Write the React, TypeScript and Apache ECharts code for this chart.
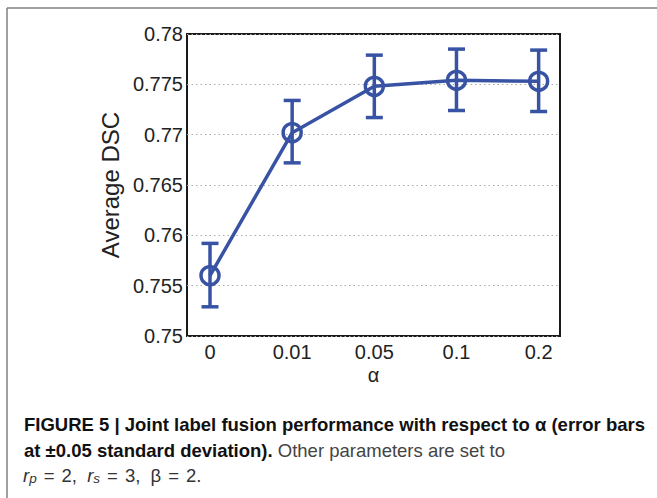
import React, { useEffect, useRef } from "react";
import * as echarts from "echarts";

const categories = ["0", "0.01", "0.05", "0.1", "0.2"];
const meanDSC = [0.756, 0.7702, 0.7748, 0.7754, 0.7753];
const lowerDSC = [0.7529, 0.7672, 0.7717, 0.7724, 0.7723];
const upperDSC = [0.7592, 0.7734, 0.7779, 0.7785, 0.7784];
const yTicks = [0.75, 0.755, 0.76, 0.765, 0.77, 0.775, 0.78];

const BLUE = "#3953a4";
const FONT = "'Liberation Sans', Arial, Helvetica, sans-serif";

export default function App() {
  const ref = useRef<HTMLDivElement>(null);
  useEffect(() => {
    if (!ref.current) return;
    const chart = echarts.init(ref.current, null, { renderer: "svg" });
    const idx = categories.map((_, i) => i);
    const lineData = idx.map((i) => [i, meanDSC[i]]);
    const errData = idx.map((i) => [i, meanDSC[i], lowerDSC[i], upperDSC[i]]);
    const CF = 18.5;
    const base = { fontSize: CF, fill: "#333", fontFamily: FONT, lineHeight: 22, verticalAlign: "bottom" };
    chart.setOption({
      animation: false,
      backgroundColor: "#fff",
      textStyle: { fontFamily: FONT },
      grid: {
        left: 187,
        top: 34,
        right: 97,
        bottom: 162,
        show: true,
        borderColor: "#1a1a1a",
        borderWidth: 2,
        backgroundColor: "transparent",
      },
      xAxis: {
        type: "value",
        min: -0.28,
        max: 4.26,
        name: "α",
        nameLocation: "middle",
        nameGap: 32,
        nameMoveOverlap: false,
        nameTextStyle: { fontSize: 20, lineHeight: 14, color: "#222", fontFamily: FONT },
        axisLine: { show: false },
        axisTick: { show: false },
        splitLine: { show: false },
        axisLabel: {
          customValues: idx,
          formatter: (v: number) => categories[Math.round(v)] ?? "",
          fontSize: 20,
          lineHeight: 20,
          color: "#222",
          margin: 6,
          fontFamily: FONT,
        },
      },
      yAxis: {
        type: "value",
        min: 0.75,
        max: 0.78,
        interval: 0.005,
        name: "Average DSC",
        nameLocation: "middle",
        nameGap: 60,
        nameTextStyle: { fontSize: 24, color: "#222", fontFamily: FONT },
        axisLine: { show: false },
        axisTick: { show: false },
        axisLabel: {
          fontSize: 20,
          color: "#222",
          margin: 4,
          fontFamily: FONT,
          formatter: (v: number) => {
            const m = yTicks.find((t) => Math.abs(t - v) < 1e-9);
            return m !== undefined ? String(m) : String(+v.toFixed(3));
          },
        },
        splitLine: {
          show: true,
          lineStyle: { color: "#aaa", type: [1.5, 3], width: 1 },
        },
      },
      series: [
        {
          type: "line",
          data: lineData,
          symbol: "none",
          lineStyle: { color: BLUE, width: 3.5 },
          z: 2,
        },
        {
          type: "custom",
          data: errData,
          z: 3,
          renderItem: (params: any, api: any) => {
            const x = api.value(0);
            const c = api.coord([x, api.value(1)]);
            const lo = api.coord([x, api.value(2)]);
            const hi = api.coord([x, api.value(3)]);
            const cap = 8.5;
            const st = { stroke: BLUE, lineWidth: 3.5, fill: "none" };
            return {
              type: "group",
              children: [
                { type: "line", shape: { x1: c[0], y1: hi[1], x2: c[0], y2: lo[1] }, style: st },
                { type: "line", shape: { x1: c[0] - cap, y1: hi[1], x2: c[0] + cap, y2: hi[1] }, style: st },
                { type: "line", shape: { x1: c[0] - cap, y1: lo[1], x2: c[0] + cap, y2: lo[1] }, style: st },
                { type: "circle", shape: { cx: c[0], cy: c[1], r: 9 }, style: { stroke: BLUE, lineWidth: 3.5, fill: "none" } },
              ],
            };
          },
        },
      ],
      graphic: [
        { type: "line", shape: { x1: 7, y1: 8, x2: 660, y2: 8 }, style: { stroke: "#808080", lineWidth: 1.5 } },
        { type: "line", shape: { x1: 7, y1: 8, x2: 7, y2: 500 }, style: { stroke: "#808080", lineWidth: 1.5 } },
        {
          type: "text",
          left: 24,
          top: 415,
          style: {
            text: "{b|FIGURE 5 | Joint label fusion performance with respect to α (error bars}",
            rich: { b: { fontSize: CF, fontWeight: "bold", fill: "#111", fontFamily: FONT } },
          },
        },
        {
          type: "text",
          left: 24,
          top: 441,
          style: {
            text: "{b|at ±0.05 standard deviation).}{n| Other parameters are set to}",
            rich: {
              b: { fontSize: CF, fontWeight: "bold", fill: "#111", fontFamily: FONT },
              n: { fontSize: CF, fill: "#444", fontFamily: FONT },
            },
          },
        },
        {
          type: "text",
          left: 23,
          top: 466,
          style: {
            text: "{i|r}{s|p}{e|=}{n|2,  }{i|r}{s|s}{e|=}{n|3,  β}{e|=}{n|2.}",
            rich: {
              i: { ...base, fontStyle: "italic" },
              s: { ...base, fontSize: 13.5, fontStyle: "italic", padding: [5, 0, 0, 0] },
              e: { ...base, padding: [0, 7, 0, 7] },
              n: { ...base },
            },
          },
        },
      ],
    });
    return () => chart.dispose();
  }, []);
  return (
    <div
      ref={ref}
      style={{ position: "fixed", left: 0, top: 0, width: 657, height: 498 }}
    />
  );
}
